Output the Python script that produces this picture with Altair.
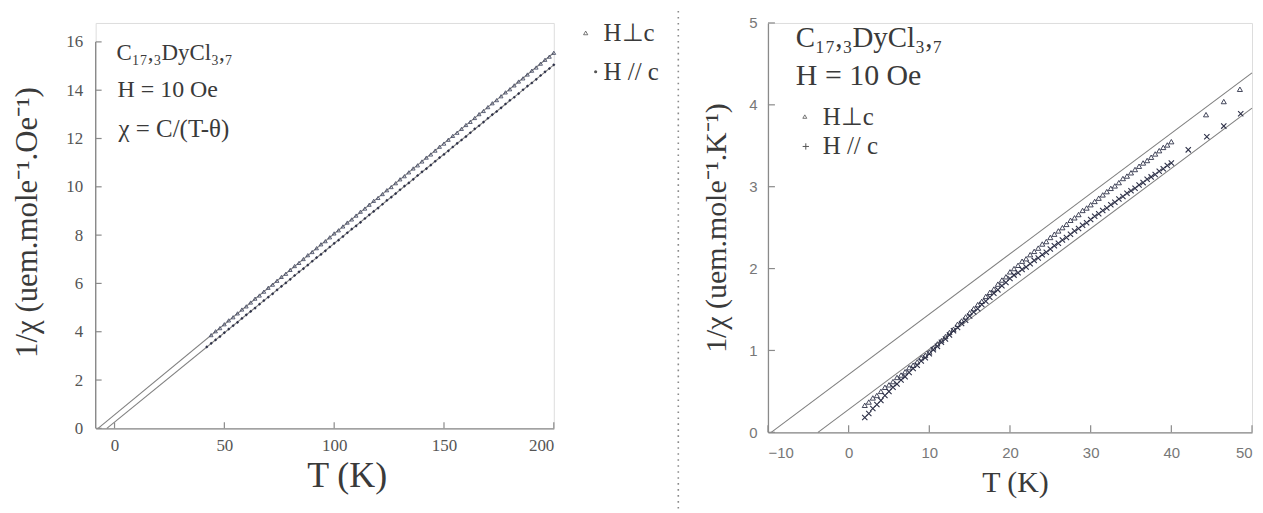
import altair as alt
import pandas as pd

# ---------------- Left panel data (T in K, 1/chi) ----------------
left_perp_T = [44, 46, 48, 50, 52, 54, 56, 58, 60, 62,
               64, 66, 68, 70, 72, 74, 76, 78, 80, 82,
               84, 86, 88, 90, 92, 94, 96, 98, 100, 102,
               104, 106, 108, 110, 112, 114, 116, 118, 120, 122,
               124, 126, 128, 130, 132, 134, 136, 138, 140, 142,
               144, 146, 148, 150, 152, 154, 156, 158, 160, 162,
               164, 166, 168, 170, 172, 174, 176, 178, 180, 182,
               184, 186, 188, 190, 192, 194, 196, 198, 200]
left_perp_chi = [3.86, 4.02, 4.15, 4.31, 4.47, 4.60, 4.76, 4.92, 5.05, 5.21,
                 5.37, 5.50, 5.66, 5.82, 5.95, 6.11, 6.27, 6.40, 6.56, 6.72,
                 6.85, 7.01, 7.17, 7.30, 7.46, 7.62, 7.75, 7.91, 8.07, 8.20,
                 8.36, 8.52, 8.65, 8.81, 8.97, 9.10, 9.26, 9.42, 9.54, 9.70,
                 9.86, 9.99, 10.15, 10.31, 10.44, 10.60, 10.76, 10.89, 11.05, 11.21,
                 11.34, 11.50, 11.66, 11.79, 11.95, 12.11, 12.24, 12.40, 12.56, 12.69,
                 12.85, 13.01, 13.14, 13.30, 13.46, 13.59, 13.75, 13.91, 14.04, 14.20,
                 14.36, 14.49, 14.65, 14.81, 14.94, 15.10, 15.26, 15.39, 15.55]
left_par_T = [42, 44, 46, 48, 50, 52, 54, 56, 58, 60,
              62, 64, 66, 68, 70, 72, 74, 76, 78, 80,
              82, 84, 86, 88, 90, 92, 94, 96, 98, 100,
              102, 104, 106, 108, 110, 112, 114, 116, 118, 120,
              122, 124, 126, 128, 130, 132, 134, 136, 138, 140,
              142, 144, 146, 148, 150, 152, 154, 156, 158, 160,
              162, 164, 166, 168, 170, 172, 174, 176, 178, 180,
              182, 184, 186, 188, 190, 192, 194, 196, 198, 200]
left_par_chi = [3.37, 3.52, 3.66, 3.80, 3.96, 4.11, 4.25, 4.39, 4.55, 4.70,
                4.84, 4.98, 5.14, 5.29, 5.43, 5.57, 5.73, 5.88, 6.02, 6.17,
                6.33, 6.48, 6.61, 6.76, 6.92, 7.07, 7.20, 7.35, 7.51, 7.66,
                7.79, 7.94, 8.10, 8.25, 8.38, 8.53, 8.69, 8.84, 8.98, 9.12,
                9.28, 9.44, 9.57, 9.72, 9.88, 10.03, 10.16, 10.31, 10.47, 10.62,
                10.75, 10.90, 11.06, 11.21, 11.34, 11.49, 11.65, 11.80, 11.94, 12.08,
                12.24, 12.40, 12.53, 12.68, 12.84, 12.99, 13.12, 13.27, 13.43, 13.58,
                13.71, 13.86, 14.02, 14.17, 14.30, 14.45, 14.61, 14.76, 14.90, 15.05]
left_fit_perp_T = [-7.5, 200]
left_fit_perp_chi = [0, 15.55]
left_fit_par_T = [-3.5, 200]
left_fit_par_chi = [0, 15.05]
left_x_ticks = [0, 50, 100, 150, 200]
left_y_ticks = [0, 2, 4, 6, 8, 10, 12, 14, 16]

# ---------------- Right panel data ----------------
right_perp_T = [2.0, 2.5, 3.0, 3.5, 4.0, 4.5, 5.0,
                5.5, 6.0, 6.5, 7.0, 7.5, 8.0, 8.5, 9.0, 9.5, 10.0,
                10.5, 11.0, 11.5, 12.0, 12.5, 13.0, 13.5, 14.0, 14.5, 15.0,
                15.5, 16.0, 16.5, 17.0, 17.5, 18.0, 18.5, 19.0, 19.5, 20.0,
                20.5, 21.0, 21.5, 22.0, 22.5, 23.0, 23.5, 24.0, 24.5, 25.0,
                25.5, 26.0, 26.5, 27.0, 27.5, 28.0, 28.5, 29.0, 29.5, 30.0,
                30.5, 31.0, 31.5, 32.0, 32.5, 33.0, 33.5, 34.0, 34.5, 35.0,
                35.5, 36.0, 36.5, 37.0, 37.5, 38.0, 38.5, 39.0, 39.5, 40.0,
                44.3, 46.5, 48.5]
right_perp_chi = [0.33, 0.37, 0.42, 0.45, 0.50, 0.55, 0.58,
                  0.62, 0.67, 0.70, 0.74, 0.79, 0.82, 0.86, 0.91, 0.94, 0.98,
                  1.03, 1.08, 1.12, 1.17, 1.22, 1.26, 1.32, 1.36, 1.41, 1.46,
                  1.51, 1.56, 1.60, 1.66, 1.71, 1.75, 1.81, 1.86, 1.90, 1.96,
                  2.00, 2.04, 2.09, 2.12, 2.17, 2.21, 2.25, 2.30, 2.33, 2.38,
                  2.42, 2.46, 2.50, 2.54, 2.59, 2.62, 2.66, 2.71, 2.74, 2.78,
                  2.82, 2.86, 2.90, 2.94, 2.98, 3.01, 3.05, 3.10, 3.13, 3.17,
                  3.21, 3.25, 3.29, 3.32, 3.36, 3.40, 3.44, 3.48, 3.51, 3.55,
                  3.88, 4.04, 4.19]
right_par_T = [2.0, 2.5, 3.0, 3.5, 4.0, 4.5, 5.0,
               5.5, 6.0, 6.5, 7.0, 7.5, 8.0, 8.5, 9.0, 9.5, 10.0,
               10.5, 11.0, 11.5, 12.0, 12.5, 13.0, 13.5, 14.0, 14.5, 15.0,
               15.5, 16.0, 16.5, 17.0, 17.5, 18.0, 18.5, 19.0, 19.5, 20.0,
               20.5, 21.0, 21.5, 22.0, 22.5, 23.0, 23.5, 24.0, 24.5, 25.0,
               25.5, 26.0, 26.5, 27.0, 27.5, 28.0, 28.5, 29.0, 29.5, 30.0,
               30.5, 31.0, 31.5, 32.0, 32.5, 33.0, 33.5, 34.0, 34.5, 35.0,
               35.5, 36.0, 36.5, 37.0, 37.5, 38.0, 38.5, 39.0, 39.5, 40.0,
               42.1, 44.4, 46.5, 48.6]
right_par_chi = [0.18, 0.23, 0.29, 0.34, 0.39, 0.45, 0.50,
                 0.55, 0.59, 0.64, 0.68, 0.73, 0.78, 0.82, 0.87, 0.91, 0.96,
                 1.01, 1.05, 1.10, 1.14, 1.19, 1.24, 1.28, 1.33, 1.37, 1.42,
                 1.47, 1.51, 1.56, 1.60, 1.65, 1.70, 1.74, 1.79, 1.83, 1.88,
                 1.92, 1.95, 1.99, 2.02, 2.06, 2.10, 2.13, 2.17, 2.20, 2.24,
                 2.28, 2.31, 2.35, 2.38, 2.42, 2.46, 2.49, 2.53, 2.56, 2.60,
                 2.64, 2.67, 2.71, 2.74, 2.78, 2.81, 2.85, 2.88, 2.92, 2.95,
                 2.98, 3.02, 3.05, 3.09, 3.12, 3.15, 3.19, 3.22, 3.26, 3.29,
                 3.45, 3.61, 3.74, 3.89]
right_fit_perp_T = [-9.6, 50]
right_fit_perp_chi = [0, 4.39]
right_fit_par_T = [-3.8, 50]
right_fit_par_chi = [0, 3.96]
right_x_ticks = [-10, 0, 10, 20, 30, 40, 50]
right_y_ticks = [0, 1, 2, 3, 4, 5]

SERIF = "Liberation Serif"
SANS = "Liberation Sans"
INK = "#2e3148"
TXT = "#3a3a3a"
AX = "#8a8a8a"
FIT = "#808080"
one = pd.DataFrame({"k": [0]})


def df(T, chi):
    return pd.DataFrame({"T": T, "chi": chi})


def text(s, x, y, size, font=SERIF, color=TXT, align="left", weight="normal"):
    return alt.Chart(one).mark_text(text=s, font=font, fontSize=size, color=color,
                                    align=align, baseline="middle", fontWeight=weight
                                    ).encode(x=alt.value(x), y=alt.value(y))


def sym(shape, x, y, size, filled=False, color=INK, sw=1.0):
    return alt.Chart(one).mark_point(shape=shape, size=size, filled=filled, color=color,
                                     strokeWidth=sw, opacity=1).encode(x=alt.value(x), y=alt.value(y))


# ---------------- Left panel ----------------
# plot area spans 19px more at top than the axis; the visible y axis line is drawn only to 16
W1, H1 = 460, 407
xs1 = alt.Scale(domain=[-8.6, 200], nice=False, zero=False)
ys1 = alt.Scale(domain=[0, 16.784], nice=False)
xax1 = alt.Axis(values=left_x_ticks, ticks=False, grid=False, domainColor=AX, domainWidth=1.3,
                labelFont=SERIF, labelFontSize=17, labelColor="#555", labelPadding=9,
                title="T (K)", titleFont=SERIF, titleFontSize=36, titleFontWeight="normal",
                titleColor=TXT, titlePadding=5, titleX=252, titleAlign="center")
yax1 = alt.Axis(values=left_y_ticks, ticks=False, grid=False, domain=False,
                labelFont=SERIF, labelFontSize=17, labelColor="#555", labelPadding=13,
                title="1/χ (uem.mole⁻¹.Oe⁻¹)", titleFont=SERIF, titleFontSize=31,
                titleFontWeight="normal", titleColor=TXT, titlePadding=22, titleY=200)
X1 = alt.X("T:Q", scale=xs1, axis=xax1)
Y1 = alt.Y("chi:Q", scale=ys1, axis=yax1)

l_yline = alt.Chart(pd.DataFrame({"chi": [0], "chi2": [16]})).mark_rule(color=AX, strokeWidth=1.3).encode(
    y=Y1, y2="chi2:Q", x=alt.value(0))
l_fit1 = alt.Chart(df(left_fit_perp_T, left_fit_perp_chi)).mark_line(color=FIT, strokeWidth=1.1).encode(x=X1, y=Y1)
l_fit2 = alt.Chart(df(left_fit_par_T, left_fit_par_chi)).mark_line(color=FIT, strokeWidth=1.1).encode(x=X1, y=Y1)
l_perp = alt.Chart(df(left_perp_T, left_perp_chi)).mark_point(shape="triangle-up", size=14, filled=False,
                                                               color="#4a4f68", strokeWidth=0.9, opacity=1).encode(x=X1, y=Y1)
l_par = alt.Chart(df(left_par_T, left_par_chi)).mark_point(shape="diamond", size=10, filled=True,
                                                            color=INK, opacity=1).encode(x=X1, y=Y1)
l_xt = alt.Chart(pd.DataFrame({"T": left_x_ticks})).mark_rule(color=AX, strokeWidth=1.2).encode(
    x=X1, y=alt.value(H1), y2=alt.value(H1 - 6))
l_yt = alt.Chart(pd.DataFrame({"chi": left_y_ticks})).mark_rule(color=AX, strokeWidth=1.2).encode(
    y=Y1, x=alt.value(0), x2=alt.value(6))
sep = alt.Chart(one).mark_rule(color="#8a8a8a", strokeWidth=1.6, strokeDash=[1.6, 4.4]).encode(
    x=alt.value(585), y=alt.value(-12), y2=alt.value(493))

left = alt.layer(
    l_yline, l_fit1, l_fit2, l_perp, l_par, l_xt, l_yt, sep,
    text("C₁₇,₃DyCl₃,₇", 21, 30, 23),
    text("H = 10 Oe", 22, 67, 24),
    text("χ = C/(T-θ)", 23, 106, 25),
    sym("triangle-up", 492, 10, 18, sw=0.8, color="#555"),
    text("H⊥c", 510, 10, 25),
    sym("circle", 502, 49, 10, filled=True, color="#555"),
    text("H // c", 510, 49, 25),
).properties(width=W1, height=H1)

# ---------------- Right panel ----------------
W2, H2 = 486, 411
xs2 = alt.Scale(domain=[-10, 50], nice=False, zero=False)
ys2 = alt.Scale(domain=[0, 5], nice=False)
xax2 = alt.Axis(values=right_x_ticks, ticks=False, grid=False, domainColor=AX, domainWidth=1.3,
                labelFont=SANS, labelFontSize=15, labelColor="#777", labelPadding=13,
                title="T (K)", titleFont=SERIF, titleFontSize=30, titleFontWeight="normal",
                titleColor=TXT, titlePadding=7, titleX=248, titleAlign="center")
yax2 = alt.Axis(values=right_y_ticks, ticks=False, grid=False, domainColor=AX, domainWidth=1.3,
                labelFont=SANS, labelFontSize=15, labelColor="#777", labelPadding=11,
                title="1/χ (uem.mole⁻¹.K⁻¹)", titleFont=SERIF, titleFontSize=30,
                titleFontWeight="normal", titleColor=TXT, titlePadding=17)
X2 = alt.X("T:Q", scale=xs2, axis=xax2)
Y2 = alt.Y("chi:Q", scale=ys2, axis=yax2)

XSHAPE = "M-1,-1L1,1M-1,1L1,-1"
PLUS = "M0,-1L0,1M-1,0L1,0"

r_fit1 = alt.Chart(df(right_fit_perp_T, right_fit_perp_chi)).mark_line(color=FIT, strokeWidth=1.1).encode(x=X2, y=Y2)
r_fit2 = alt.Chart(df(right_fit_par_T, right_fit_par_chi)).mark_line(color=FIT, strokeWidth=1.1).encode(x=X2, y=Y2)
r_perp = alt.Chart(df(right_perp_T, right_perp_chi)).mark_point(shape="triangle-up", size=26, filled=False,
                                                                 color=INK, strokeWidth=0.9, opacity=1).encode(x=X2, y=Y2)
r_par = alt.Chart(df(right_par_T, right_par_chi)).mark_point(shape=XSHAPE, size=28, filled=False,
                                                              color=INK, strokeWidth=1.1, opacity=1).encode(x=X2, y=Y2)
r_xt = alt.Chart(pd.DataFrame({"T": right_x_ticks})).mark_rule(color=AX, strokeWidth=1.2).encode(
    x=X2, y=alt.value(H2), y2=alt.value(H2 - 7))
r_yt = alt.Chart(pd.DataFrame({"chi": right_y_ticks})).mark_rule(color=AX, strokeWidth=1.2).encode(
    y=Y2, x=alt.value(0), x2=alt.value(7))

right = alt.layer(
    r_fit1, r_fit2, r_perp, r_par, r_xt, r_yt,
    text("C₁₇,₃DyCl₃,₇", 28, 15, 29),
    text("H = 10 Oe", 28, 53, 30),
    sym("triangle-up", 37, 94, 16, sw=0.8, color="#555"),
    text("H⊥c", 55, 94, 25),
    sym(PLUS, 38, 124, 40, sw=1.0, color="#555"),
    text("H // c", 55, 124, 25),
).properties(width=W2, height=H2)

chart = alt.hconcat(left, right, spacing=21).properties(
    padding={"left": 3, "top": 0, "right": 0, "bottom": 0}
).configure_view(stroke=None).configure(background="white")

chart.save("out.html", embed_options={"renderer": "svg", "actions": False})
